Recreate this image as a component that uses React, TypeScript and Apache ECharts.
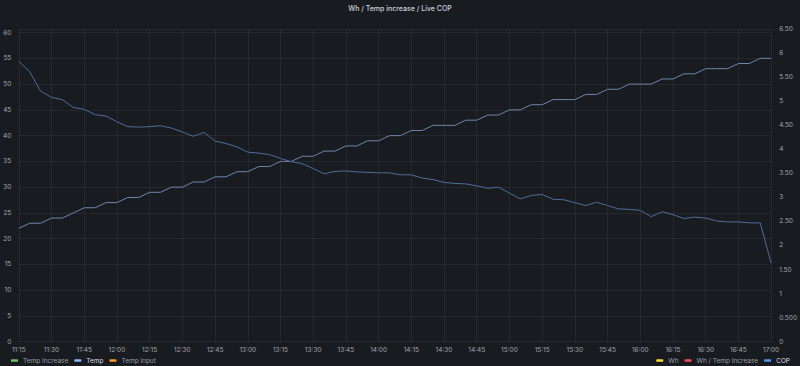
import React, { useEffect, useRef } from 'react';
import * as echarts from 'echarts';

const TITLE = 'Wh / Temp increase / Live COP';

const TIMES = [
  '11:15', '11:20', '11:25', '11:30', '11:35', '11:40', '11:45', '11:50', '11:55',
  '12:00', '12:05', '12:10', '12:15', '12:20', '12:25', '12:30', '12:35', '12:40', '12:45', '12:50', '12:55',
  '13:00', '13:05', '13:10', '13:15', '13:20', '13:25', '13:30', '13:35', '13:40', '13:45', '13:50', '13:55',
  '14:00', '14:05', '14:10', '14:15', '14:20', '14:25', '14:30', '14:35', '14:40', '14:45', '14:50', '14:55',
  '15:00', '15:05', '15:10', '15:15', '15:20', '15:25', '15:30', '15:35', '15:40', '15:45', '15:50', '15:55',
  '16:00', '16:05', '16:10', '16:15', '16:20', '16:25', '16:30', '16:35', '16:40', '16:45', '16:50', '16:55',
  '17:00',
];

const TEMP = [
  22, 23, 23, 24, 24, 25, 26, 26, 27, 27, 28, 28, 29, 29, 30, 30, 31, 31, 32, 32,
  33, 33, 34, 34, 35, 35, 36, 36, 37, 37, 38, 38, 39, 39, 40, 40, 41, 41, 42, 42,
  42, 43, 43, 44, 44, 45, 45, 46, 46, 47, 47, 47, 48, 48, 49, 49, 50, 50, 50, 51,
  51, 52, 52, 53, 53, 53, 54, 54, 55, 55,
];

const COP = [
  5.83, 5.61, 5.21, 5.08, 5.03, 4.87, 4.83, 4.72, 4.69, 4.57, 4.47, 4.46, 4.47, 4.49, 4.44, 4.36, 4.27, 4.35, 4.17, 4.12,
  4.05, 3.94, 3.92, 3.89, 3.81, 3.74, 3.70, 3.60, 3.49, 3.54, 3.55, 3.53, 3.52, 3.51, 3.51, 3.47, 3.47, 3.40, 3.37, 3.31,
  3.29, 3.28, 3.24, 3.19, 3.21, 3.09, 2.97, 3.04, 3.06, 2.96, 2.95, 2.89, 2.83, 2.90, 2.83, 2.76, 2.75, 2.73, 2.60, 2.70,
  2.64, 2.56, 2.59, 2.57, 2.51, 2.49, 2.49, 2.47, 2.47, 1.63,
];

const LEFT_LEGEND = ['Temp Increase', 'Temp', 'Temp input'];
const RIGHT_LEGEND = ['Wh', 'Wh / Temp Increase', 'COP'];

export default function App() {
  const ref = useRef<HTMLDivElement>(null);

  useEffect(() => {
    document.body.style.margin = '0';
    const chart = echarts.init(ref.current!, null, { renderer: 'svg' });
    const font = 'Inter, "Noto Sans", sans-serif';
    const labelColor = '#a3a5ad';
    const gridColor = 'rgba(204,204,220,0.08)';
    const dimText = { color: '#9a9ca4', fontSize: 6.5, fontFamily: font };
    const brightText = { color: '#d8d9e0', fontSize: 6.5, fontFamily: font };

    const option: any = {
      animation: false,
      backgroundColor: '#181b1f',
      title: {
        text: TITLE,
        left: 'center',
        top: 0,
        textStyle: { color: '#d0d1dc', fontSize: 7, fontWeight: 500, fontFamily: font },
      },
      grid: { left: 17.5, right: 27, top: 29, bottom: 24.3, containLabel: false },
      legend: [
        {
          left: 6,
          top: 352,
          itemWidth: 7,
          itemHeight: 2.5,
          itemGap: 6,
          icon: 'roundRect',
          textStyle: dimText,
          data: [
            { name: LEFT_LEGEND[0], itemStyle: { color: '#73bf69' }, textStyle: dimText },
            { name: LEFT_LEGEND[1], itemStyle: { color: '#8ab8ff' }, textStyle: brightText },
            { name: LEFT_LEGEND[2], itemStyle: { color: '#ff9830' }, textStyle: dimText },
          ],
          selectedMode: false,
        },
        {
          right: 5,
          top: 352,
          itemWidth: 7,
          itemHeight: 2.5,
          itemGap: 6,
          icon: 'roundRect',
          textStyle: dimText,
          data: [
            { name: RIGHT_LEGEND[0], itemStyle: { color: '#fade2a' }, textStyle: dimText },
            { name: RIGHT_LEGEND[1], itemStyle: { color: '#f2495c' }, textStyle: dimText },
            { name: RIGHT_LEGEND[2], itemStyle: { color: '#5794f2' }, textStyle: brightText },
          ],
          selectedMode: false,
        },
      ],
      xAxis: {
        type: 'category',
        data: TIMES,
        boundaryGap: false,
        axisLine: { show: false },
        axisTick: { show: false },
        axisLabel: { interval: 2, color: labelColor, fontSize: 6.5, fontFamily: font, margin: 5 },
        splitLine: { show: true, interval: 2, lineStyle: { color: gridColor, width: 1 } },
      },
      yAxis: [
        {
          type: 'value',
          min: 0,
          max: 60.7,
          interval: 5,
          axisLine: { show: false },
          axisTick: { show: false },
          axisLabel: {
            color: labelColor,
            fontSize: 6.5,
            fontFamily: font,
            margin: 7.5,
            formatter: (v: number) => (Math.abs(v % 5) < 1e-6 ? String(v) : ''),
          },
          splitLine: { lineStyle: { color: gridColor, width: 1 } },
        },
        {
          type: 'value',
          min: 0,
          max: 6.5,
          interval: 0.5,
          position: 'right',
          axisLine: { show: false },
          axisTick: { show: false },
          axisLabel: {
            color: labelColor,
            fontSize: 6.5,
            fontFamily: font,
            margin: 8,
            formatter: (v: number) =>
              Math.abs(v - 0.5) < 1e-6 ? '0.500' : Math.abs(v % 1) < 1e-6 ? String(v) : v.toFixed(2),
          },
          splitLine: { show: false },
        },
      ],
      series: [
        { name: LEFT_LEGEND[0], type: 'line', data: [], color: '#73bf69' },
        {
          name: LEFT_LEGEND[1],
          type: 'line',
          data: TEMP,
          yAxisIndex: 0,
          showSymbol: false,
          color: '#8ab8ff',
          lineStyle: { color: '#6f84ad', width: 1 },
        },
        { name: LEFT_LEGEND[2], type: 'line', data: [], color: '#ff9830' },
        { name: RIGHT_LEGEND[0], type: 'line', data: [], yAxisIndex: 1, color: '#fade2a' },
        { name: RIGHT_LEGEND[1], type: 'line', data: [], yAxisIndex: 1, color: '#f2495c' },
        {
          name: RIGHT_LEGEND[2],
          type: 'line',
          data: COP,
          yAxisIndex: 1,
          showSymbol: false,
          color: '#5794f2',
          lineStyle: { color: '#4f6b9d', width: 1 },
        },
      ],
    };
    chart.setOption(option);
    return () => chart.dispose();
  }, []);

  return (
    <div
      ref={ref}
      style={{ position: 'absolute', left: 0, top: 0, width: 800, height: 366 }}
    />
  );
}
